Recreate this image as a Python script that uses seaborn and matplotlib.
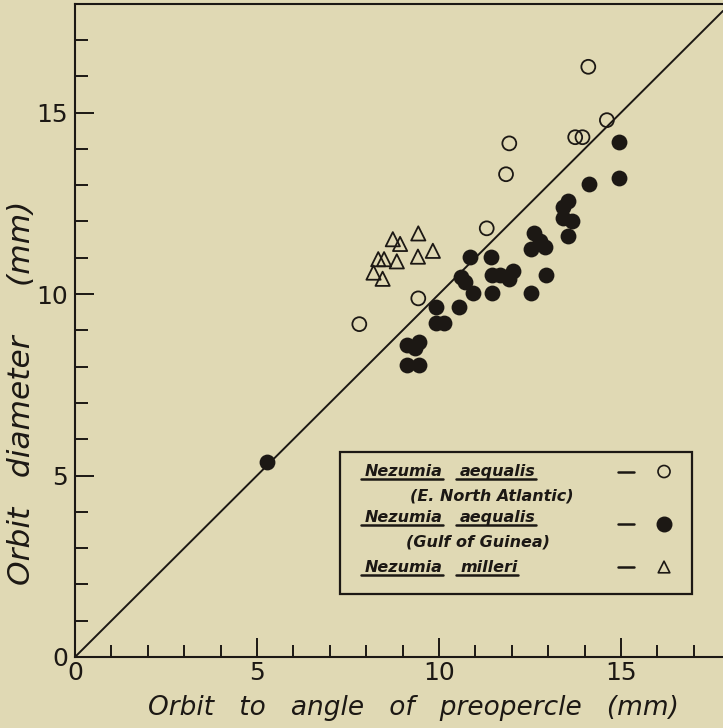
import matplotlib
matplotlib.use("Agg")
import matplotlib.pyplot as plt
from matplotlib.patches import Rectangle
from matplotlib.ticker import MultipleLocator
import seaborn as sns

# valores (mm)
# Nezumia aequalis - E. North Atlantic (circulos abertos)
atl_x = [14.10, 14.61, 13.74, 13.94, 11.93, 11.84, 11.31, 9.43, 7.81]
atl_y = [16.26, 14.79, 14.32, 14.32, 14.15, 13.30, 11.81, 9.88, 9.17]

# Nezumia aequalis - Gulf of Guinea (circulos cheios)
gui_x = [5.27, 9.11, 9.46, 9.34, 9.11, 9.46, 9.92, 10.14, 9.92, 10.56,
         10.60, 10.71, 10.85, 11.43, 11.45, 11.68, 12.02, 11.93, 10.94, 11.45,
         12.53, 12.94, 12.61, 12.77, 12.52, 12.91, 13.54, 13.41, 13.65, 13.41,
         13.55, 14.12, 14.93, 14.93]
gui_y = [5.38, 8.60, 8.69, 8.50, 8.04, 8.04, 9.19, 9.19, 9.63, 9.63,
         10.46, 10.34, 11.01, 11.03, 10.52, 10.52, 10.63, 10.42, 10.04, 10.04,
         10.04, 10.52, 11.67, 11.47, 11.23, 11.30, 11.61, 12.09, 12.02, 12.40,
         12.57, 13.02, 14.18, 13.20]

# Nezumia milleri (triangulos)
mil_x = [9.43, 8.73, 8.93, 9.83, 8.33, 8.49, 8.84, 9.42, 8.20, 8.45]
mil_y = [11.67, 11.51, 11.38, 11.19, 10.96, 10.96, 10.90, 11.03, 10.59, 10.42]

major_ticks = [0, 5, 10, 15]
tick_labels = ["0", "5", "10", "15"]

leg_genus = ["Nezumia", "Nezumia", "Nezumia"]
leg_species = ["aequalis", "aequalis", "milleri"]
leg_region = ["(E. North Atlantic)", "(Gulf of Guinea)", ""]

fundo = "#e0d9b4"
tinta = "#1c1814"

sns.set_theme(style="ticks")
plt.rcParams["font.family"] = ["DejaVu Sans"]

fig = plt.figure(figsize=(7.23, 7.28), dpi=100, facecolor=fundo)
ax = fig.add_axes([75 / 723, 71 / 728, 648 / 723, 653 / 728])
ax.set_facecolor(fundo)

ax.set_xlim(0, 17.8)
ax.set_ylim(0, 17.99)

# linha 1:1
ax.axline((0, 0), slope=1, color=tinta, lw=1.4, zorder=1)

sns.scatterplot(x=atl_x, y=atl_y, ax=ax, marker="o", s=100, color="none",
                edgecolor=tinta, linewidth=1.3, zorder=3)
sns.scatterplot(x=gui_x, y=gui_y, ax=ax, marker="o", s=130, color=tinta,
                edgecolor=tinta, linewidth=0, zorder=3)
sns.scatterplot(x=mil_x, y=mil_y, ax=ax, marker="^", s=105, color="none",
                edgecolor=tinta, linewidth=1.3, zorder=3)

# eixos
for lado in ["left", "bottom", "top"]:
    ax.spines[lado].set_color(tinta)
    ax.spines[lado].set_linewidth(1.5)
ax.spines["right"].set_visible(False)

ax.set_xticks(major_ticks)
ax.set_xticklabels(tick_labels)
ax.set_yticks(major_ticks)
ax.set_yticklabels(tick_labels)
ax.xaxis.set_minor_locator(MultipleLocator(1))
ax.yaxis.set_minor_locator(MultipleLocator(1))
ax.tick_params(which="both", direction="in", color=tinta, width=1.4,
               top=False, right=False)
ax.tick_params(which="major", length=14, labelsize=18, labelcolor=tinta)
ax.tick_params(which="minor", length=9)
ax.tick_params(axis="x", pad=3)
ax.tick_params(axis="y", pad=5)

ax.set_xlabel("Orbit   to   angle   of   preopercle   (mm)", fontsize=19,
              style="italic", color=tinta)
ax.set_ylabel("Orbit   diameter     (mm)", fontsize=22.5, style="italic",
              color=tinta, va="center")
ax.xaxis.set_label_coords(0.523, -0.058)
ax.yaxis.set_label_coords(-0.083, 0.405)

# legenda desenhada a mao (caixa, texto sublinhado, traco e simbolo)
ax.add_patch(Rectangle((7.28, 1.74), 9.67, 3.91, fill=False, edgecolor=tinta,
                       lw=1.6, zorder=4))

linhas_y = [4.98, 3.71, 2.35]
fonte = dict(fontsize=11.5, fontweight="bold", style="italic", color=tinta,
             va="baseline", ha="left", zorder=5)
palavras = []
for i in range(3):
    y = linhas_y[i]
    palavras.append(ax.text(7.97, y, leg_genus[i], **fonte))
    palavras.append(ax.text(10.58, y, leg_species[i], **fonte))
    if leg_region[i]:
        xr = 9.20 if i == 0 else 9.09
        ax.text(xr, y - 0.67, leg_region[i], **fonte)
    ym = y + 0.13 if i != 1 else y - 0.05
    ax.plot([14.92, 15.36], [ym, ym], color=tinta, lw=1.8, zorder=5)
ax.scatter([16.18], [linhas_y[0] + 0.13], s=75, facecolor="none",
           edgecolor=tinta, linewidth=1.2, zorder=5)
ax.scatter([16.18], [linhas_y[1] - 0.05], s=110, color=tinta, zorder=5)
ax.scatter([16.18], [linhas_y[2] + 0.13], marker="^", s=70, facecolor="none",
           edgecolor=tinta, linewidth=1.2, zorder=5)

# sublinhado de cada palavra
fig.canvas.draw()
inv = ax.transData.inverted()
for t in palavras:
    bb = t.get_window_extent()
    (x0, _), (x1, _) = inv.transform([[bb.x0, bb.y0], [bb.x1, bb.y0]])
    yb = t.get_position()[1] - 0.08
    ax.plot([x0 - 0.12, x1], [yb, yb], color=tinta, lw=1.8, zorder=5)

fig.savefig("out.png", dpi=100, facecolor=fundo)
